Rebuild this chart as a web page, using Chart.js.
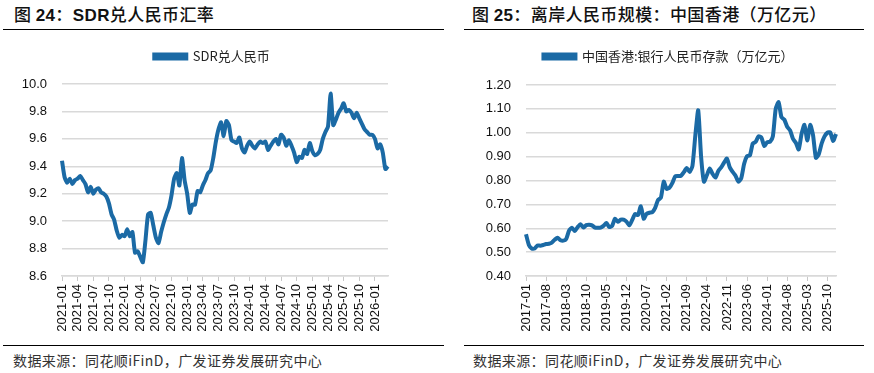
<!DOCTYPE html>
<html>
<head>
<meta charset="utf-8">
<script src="https://cdn.jsdelivr.net/npm/chart.js@4.4.1/dist/chart.umd.min.js"></script>
<style>
  html,body{margin:0;padding:0;background:#fff;}
  body{width:874px;height:373px;position:relative;overflow:hidden;font-family:"Noto Sans CJK SC","Liberation Sans",sans-serif;}
  .title{position:absolute;top:4px;font-size:17px;line-height:20px;color:#111;white-space:nowrap;letter-spacing:0.4px;font-weight:500;}
  .title b{font-family:"Liberation Sans",Arial,sans-serif;font-weight:700;}
  .rule{position:absolute;height:1px;background:#000;}
  .src{position:absolute;top:351px;font-size:14px;line-height:18px;color:#333;white-space:nowrap;letter-spacing:0.4px;}
  canvas{position:absolute;}
</style>
</head>
<body>
<div class="title" style="left:14px;">图&nbsp;<b>24</b>：<b>SDR</b>兑人民币汇率</div>
<div class="title" style="left:472px;">图&nbsp;<b>25</b>：离岸人民币规模：中国香港（万亿元）</div>
<div class="rule" style="left:3px;top:29px;width:441px;"></div>
<div class="rule" style="left:464px;top:29px;width:400px;"></div>
<div class="rule" style="left:3px;top:345px;width:441px;"></div>
<div class="rule" style="left:464px;top:345px;width:400px;"></div>
<div class="src" style="left:13px;">数据来源：同花顺iFinD，广发证券发展研究中心</div>
<div class="src" style="left:473px;">数据来源：同花顺iFinD，广发证券发展研究中心</div>
<canvas id="c1" width="437" height="314" style="left:0;top:30px;"></canvas>
<canvas id="c2" width="437" height="314" style="left:437px;top:30px;"></canvas>
<script>
// ---- Chart 24: SDR vs CNY, semi-monthly readings from 2021-01 to 2026-03 ----
const sdrStartYear = 2021;
const sdrCount = 126;
const sdrLabels = [];
for (let i = 0; i < sdrCount; i++) {
  const m = Math.floor(i / 2);
  const y = sdrStartYear + Math.floor(m / 12);
  const mm = String(m % 12 + 1).padStart(2, '0');
  sdrLabels.push(y + '-' + mm + (i % 2 === 0 ? '-01' : '-16'));
}
const sdrValues = [
  9.44,9.32,9.28,9.31,9.27,9.30,9.31,9.33,9.30,9.27,
  9.21,9.25,9.20,9.23,9.24,9.21,9.20,9.18,9.13,9.05,
  9.01,8.93,8.88,8.90,8.89,8.94,8.89,8.92,8.77,8.78,
  8.74,8.70,8.86,9.05,9.06,8.97,8.88,8.84,8.92,8.99,
  9.05,9.10,9.19,9.31,9.35,9.26,9.46,9.30,9.20,9.06,
  9.12,9.12,9.22,9.21,9.26,9.30,9.35,9.37,9.46,9.58,
  9.67,9.72,9.62,9.73,9.70,9.59,9.58,9.57,9.61,9.53,
  9.50,9.55,9.58,9.55,9.53,9.56,9.58,9.57,9.58,9.52,
  9.55,9.58,9.60,9.56,9.63,9.61,9.55,9.59,9.55,9.50,
  9.43,9.47,9.46,9.52,9.49,9.57,9.51,9.48,9.49,9.52,
  9.60,9.65,9.69,9.93,9.70,9.74,9.79,9.82,9.86,9.80,
  9.81,9.79,9.75,9.79,9.75,9.71,9.67,9.65,9.63,9.63,
  9.60,9.53,9.56,9.50,9.38,9.40
];
const sdrYTicks = {min: 8.6, max: 10.0, step: 0.2};

// ---- Chart 25: HK bank RMB deposits (trillion yuan), monthly 2017-01 to 2026-01 ----
const hkStartYear = 2017;
const hkCount = 109;
const hkLabels = [];
for (let i = 0; i < hkCount; i++) {
  const y = hkStartYear + Math.floor(i / 12);
  hkLabels.push(y + '-' + String(i % 12 + 1).padStart(2, '0'));
}
const hkValues = [
  0.575,0.530,0.515,0.515,0.528,0.527,0.530,0.534,0.535,0.540,
  0.552,0.560,0.550,0.548,0.555,0.590,0.602,0.588,0.605,0.617,
  0.603,0.613,0.615,0.612,0.603,0.602,0.603,0.610,0.622,0.605,
  0.610,0.640,0.627,0.636,0.636,0.628,0.612,0.635,0.660,0.655,
  0.692,0.640,0.660,0.665,0.667,0.685,0.718,0.728,0.795,0.765,
  0.770,0.790,0.818,0.819,0.820,0.835,0.852,0.836,0.862,0.990,
  1.094,0.900,0.795,0.822,0.850,0.828,0.812,0.840,0.855,0.875,
  0.892,0.855,0.836,0.820,0.795,0.810,0.870,0.902,0.905,0.955,
  0.962,0.985,0.980,0.945,0.960,0.962,0.985,1.100,1.128,1.065,
  1.055,1.025,1.010,0.975,0.958,0.930,0.995,1.033,0.968,1.033,
  0.990,0.895,0.910,0.955,0.985,1.000,1.002,0.965,0.995
];
const hkYTicks = {min: 0.40, max: 1.20, step: 0.10};

const BLUE = '#1b6aa5';
const GRID = '#d9d9d9';
const TICKFONT = {family: '"Liberation Sans", Arial, sans-serif', size: 13};
const LEGFONT = {family: '"Noto Sans CJK SC", sans-serif', size: 13};

// Adds extra space under the legend and nudges it horizontally.
function legendTweak(extraH, dx) {
  return {
    id: 'legendTweak',
    beforeInit(chart) {
      const lg = chart.legend;
      const origFit = lg.fit;
      lg.fit = function () { origFit.call(lg); lg.height += extraH; };
    },
    afterLayout(chart) {
      chart.legend.left += dx;
      chart.legend.right += dx;
    }
  };
}

function makeChart(id, labels, values, name, yt, decimals, every, yWidth, rightPad, extraH, dx) {
  return new Chart(document.getElementById(id), {
    type: 'line',
    data: {
      labels: labels,
      datasets: [{
        label: name, data: values,
        borderColor: BLUE, backgroundColor: BLUE,
        borderWidth: 4, pointRadius: 0, tension: 0.2, fill: false
      }]
    },
    plugins: [legendTweak(extraH, dx)],
    options: {
      responsive: false, animation: false,
      layout: {padding: {top: 6, right: rightPad, left: 0, bottom: 0}},
      plugins: {
        legend: {
          display: true, position: 'top',
          labels: {boxWidth: 32, boxHeight: 4, font: LEGFONT, color: '#222', padding: 14}
        },
        tooltip: {enabled: false}
      },
      scales: {
        x: {
          type: 'category',
          grid: {display: true, drawOnChartArea: false, drawTicks: true, tickLength: 5, color: '#c8c8c8', lineWidth: 1},
          border: {display: true, color: GRID, width: 1.5},
          ticks: {
            autoSkip: false, maxRotation: 90, minRotation: 90, padding: 3,
            font: TICKFONT, color: '#111',
            callback: (v, i) => (i % every === 0 ? labels[i].slice(0, 7) : null)
          },
          afterFit: s => { s.height = 68; }
        },
        y: {
          min: yt.min, max: yt.max,
          ticks: {stepSize: yt.step, padding: 15, font: TICKFONT, color: '#111',
                  callback: v => Number(v).toFixed(decimals)},
          grid: {color: GRID, lineWidth: 1.5, drawTicks: false},
          border: {display: false},
          afterFit: s => { s.width = yWidth; }
        }
      }
    }
  });
}

makeChart('c1', sdrLabels, sdrValues, 'SDR兑人民币', sdrYTicks, 1, 6, 62, 49, 11, 18);
makeChart('c2', hkLabels, hkValues, '中国香港:银行人民币存款（万亿元）', hkYTicks, 2, 7, 89, 38, 12, 32);
</script>
</body>
</html>
